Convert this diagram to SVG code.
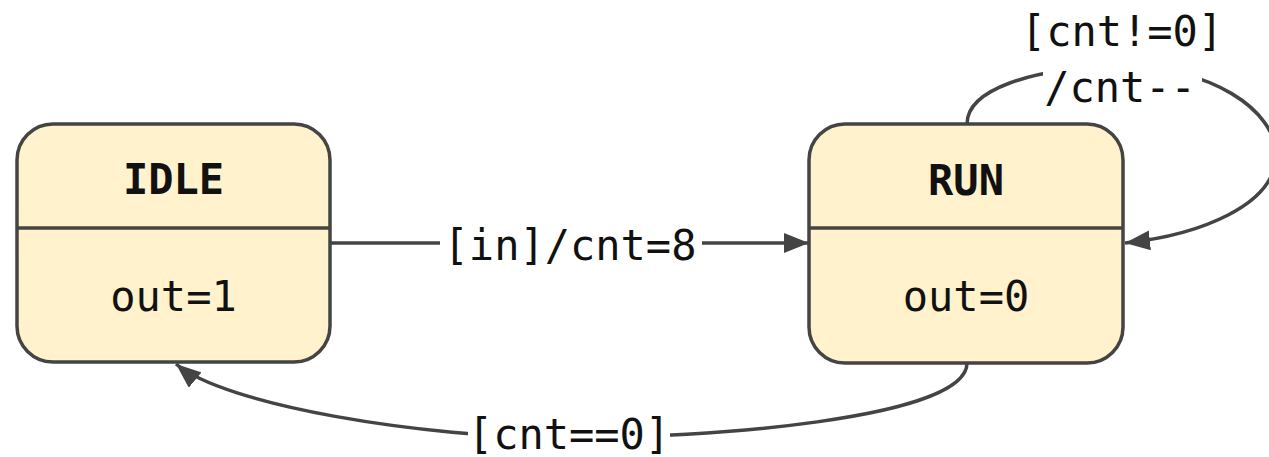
<svg xmlns="http://www.w3.org/2000/svg" width="1269" height="457" viewBox="0 0 1269 457">
  <style>
    .state { fill: #fff2cc; stroke: #444444; stroke-width: 3.5; }
    .divider { stroke: #444444; stroke-width: 3.5; }
    .name { font-family: "DejaVu Sans Mono", "Liberation Mono", monospace; font-size: 42px; font-weight: bold; fill: #111111; text-anchor: middle; }
    .action { font-family: "DejaVu Sans Mono", "Liberation Mono", monospace; font-size: 42px; fill: #111111; text-anchor: middle; }
    .edge { fill: none; stroke: #444444; stroke-width: 3.5; marker-end: url(#head); }
    .label { font-family: "DejaVu Sans Mono", "Liberation Mono", monospace; font-size: 42px; fill: #111111; text-anchor: middle; }
    .label-bg { fill: #ffffff; }
  </style>
  <defs>
    <marker id="head" markerUnits="userSpaceOnUse" markerWidth="26" markerHeight="20" refX="25" refY="10" orient="auto">
      <path d="M0,0 L25,10 L0,20 Z" fill="#444444"/>
    </marker>
  </defs>

  <rect width="1269" height="457" fill="#ffffff"/>

  <!-- transitions -->
  <g id="connectors">
    <path class="edge" d="M331,243 L809,243"/>
    <path class="edge" d="M967,124 C967,90 1030,68 1120,66 C1210,66 1276,110 1276,155 C1276,205 1200,235 1125,243"/>
    <path class="edge" d="M967,363 C967,420 700,438 570,438 C420,438 225,405 176,364"/>

    <rect class="label-bg" x="440" y="222" width="262" height="44"/>
    <text class="label" x="570" y="260">[in]/cnt=8</text>

    <rect class="label-bg" x="1043" y="62" width="159" height="44"/>
    <text class="label" x="1122" y="46">[cnt!=0]</text>
    <text class="label" x="1120" y="102">/cnt--</text>

    <rect class="label-bg" x="468" y="416" width="202" height="41"/>
    <text class="label" x="569" y="449">[cnt==0]</text>
  </g>

  <!-- IDLE state -->
  <g id="idle">
    <rect class="state" x="17" y="124" width="313" height="238" rx="36" ry="36"/>
    <line class="divider" x1="17" y1="228" x2="330" y2="228"/>
    <text class="name" x="173.5" y="194">IDLE</text>
    <text class="action" x="173.5" y="311">out=1</text>
  </g>

  <!-- RUN state -->
  <g id="run">
    <rect class="state" x="809" y="124" width="314" height="239" rx="36" ry="36"/>
    <line class="divider" x1="809" y1="228" x2="1123" y2="228"/>
    <text class="name" x="966" y="195">RUN</text>
    <text class="action" x="966" y="311">out=0</text>
  </g>
</svg>
